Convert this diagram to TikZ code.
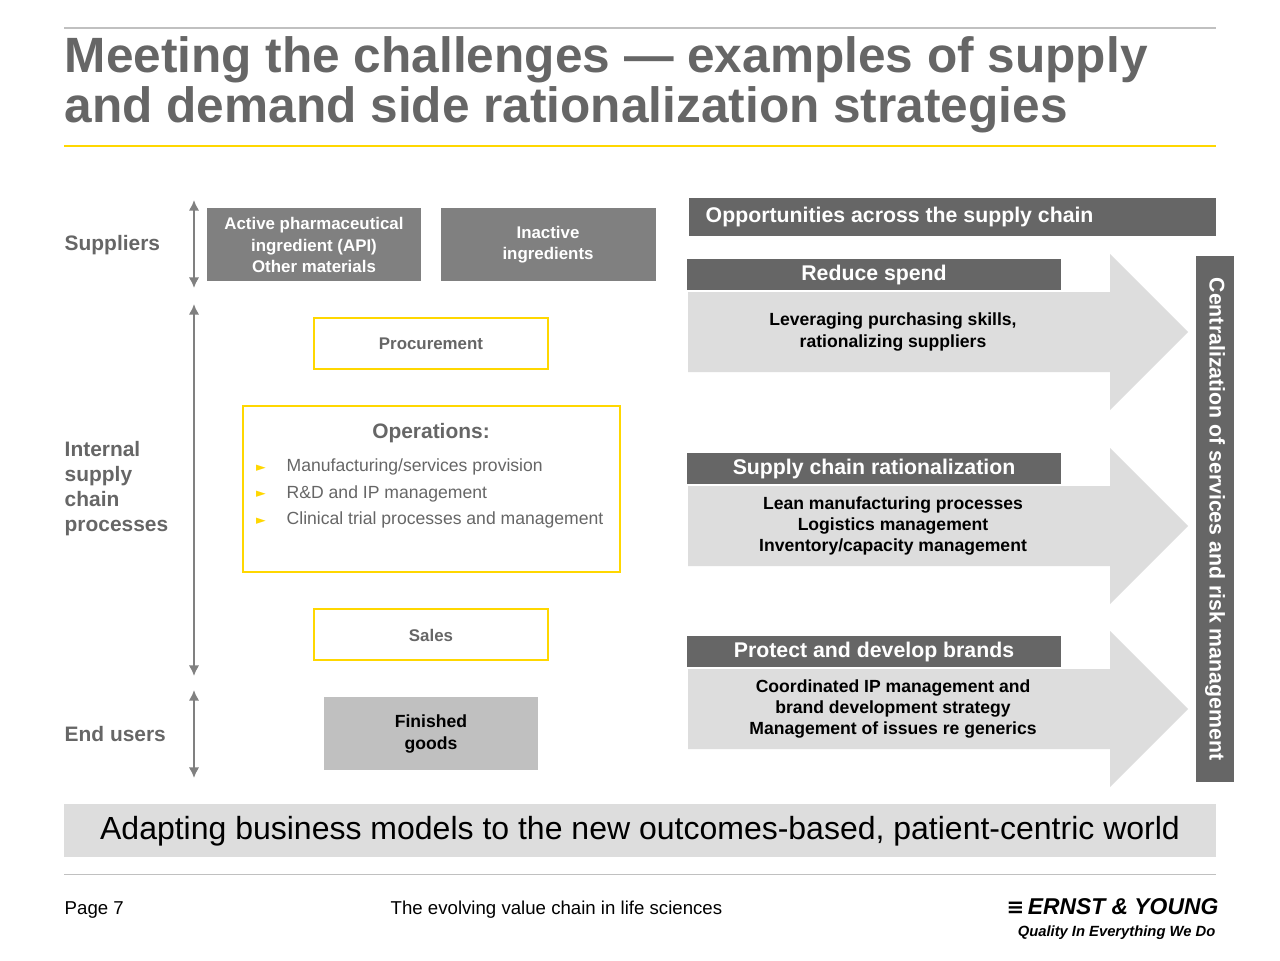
\documentclass[tikz,border=0pt]{standalone}
\usepackage{fontspec}
\setmainfont{Liberation Sans}
\newfontfamily\symfont{DejaVu Sans}
\usetikzlibrary{arrows.meta,positioning}
\definecolor{eytext}{HTML}{666666}
\definecolor{eydark}{HTML}{666666}
\definecolor{eymid}{HTML}{808080}
\definecolor{eylight}{HTML}{DDDDDD}
\definecolor{eygood}{HTML}{C0C0C0}
\definecolor{eyyellow}{HTML}{FFD700}
\newcommand{\fs}[2]{\fontsize{#1}{#2}\selectfont}

\begin{document}
\begin{tikzpicture}[x=0.01cm,y=-0.01cm,
  side/.style={anchor=west,align=left,font=\fs{5.95pt}{7.1pt}\bfseries,text=eytext},
  input/.style={align=center,font=\fs{4.8pt}{6pt}\bfseries,text=white,inner sep=0pt},
  stage/.style={draw=eyyellow,line width=0.4pt,fill=white,align=center,font=\fs{4.8pt}{6pt}\bfseries,text=eytext},
  head/.style={fill=eydark,text=white,font=\fs{6.05pt}{7pt}\bfseries,inner sep=0pt},
  body/.style={font=\fs{5pt}{6.1pt}\bfseries,align=center,text=black},
  span/.style={{Latex[length=3pt,width=3pt]}-{Latex[length=3pt,width=3pt]},eymid,line width=0.6pt},
  bullet/.style={anchor=west,font=\fs{5pt}{6pt},text=eytext,inner sep=0pt}
]
\useasboundingbox (0,0) rectangle (1280,960);
\fill[white] (0,0) rectangle (1280,960);

% title
\draw[eygood,line width=0.3pt] (64,28) -- (1216,28);
\node[anchor=north west,align=left,inner sep=0pt,font=\fs{14.1pt}{14.3pt}\bfseries,text=eytext] (title) at (64,36)
  {Meeting the challenges --- examples of supply\\and demand side rationalization strategies};
\draw[eyyellow,line width=0.6pt] (64,146) -- (1216,146);

% left side
\node[side,inner sep=0pt] (sup) at (64,245) {Suppliers};
\node[side,inner sep=0pt] (int) at (64,489) {Internal\\supply\\chain\\processes};
\node[side,inner sep=0pt] (end) at (64,734) {End users};
\coordinate (a1) at (194,200); \coordinate (a2) at (194,288);
\coordinate (b1) at (194,304); \coordinate (b2) at (194,676);
\coordinate (c1) at (194,690); \coordinate (c2) at (194,778);
\draw[span] (a1) -- (a2);
\draw[span] (b1) -- (b2);
\draw[span] (c1) -- (c2);

% chain boxes
\fill[eymid] (207,208) rectangle (421,281);
\node[input] (api) at (314,245) {Active pharmaceutical\\ingredient (API)\\Other materials};
\fill[eymid] (441,208) rectangle (656,281);
\node[input] (inact) at (548,245) {Inactive\\ingredients};
\draw[stage] (314,318) rectangle (548,369);
\node[stage,draw=none,fill=none] (proc) at (431,344) {Procurement};
\draw[stage] (243,406) rectangle (620,572);
\node[font=\fs{5.95pt}{7pt}\bfseries,text=eytext] (ops) at (431,433) {Operations:};
\foreach \t [count=\i] in {Manufacturing/services provision,R\&D and IP management,Clinical trial processes and management}{
  \node[bullet] at (286,467+26.5*\i-26.5) {\t};
  \node[font=\symfont\fs{3.6pt}{4pt},text=eyyellow] at (261,468+26.5*\i-26.5) {►};
}
\draw[stage] (314,609) rectangle (548,660);
\node[stage,draw=none,fill=none] (sales) at (431,635) {Sales};
\fill[eygood] (324,697) rectangle (538,770);
\node[body] (goods) at (431,734) {Finished\\goods};

% opportunities
\fill[eydark] (689,198) rectangle (1216,236);
\node[head,anchor=west] (opp) at (705,217) {Opportunities across the supply chain};
\foreach \y/\h/\t/\b in {
  292/Reduce spend/{Leveraging purchasing skills,\\rationalizing suppliers}/1,
  486/Supply chain rationalization/{Lean manufacturing processes\\Logistics management\\Inventory/capacity management}/2,
  669/Protect and develop brands/{Coordinated IP management and\\brand development strategy\\Management of issues re generics}/3}{
  \fill[eylight] (688,\y) -- (1110,\y) -- (1110,\y-38) -- (1188,\y+40) -- (1110,\y+118) -- (1110,\y+80) -- (688,\y+80) -- cycle;
  \fill[eydark] (687,\y-33) rectangle (1061,\y-2);
  \node[head] (h\b) at (874,\y-17) {\h};
  \node[body] (t\b) at (893,\y+40) {\t};
}
\fill[eydark] (1196,256) rectangle (1234,782);
\node[head,rotate=-90] (cent) at (1215,519) {Centralization of services and risk management};

% bottom
\fill[eylight] (64,804) rectangle (1216,857);
\node[font=\fs{9.1pt}{10pt},text=black] (adapt) at (640,831) {Adapting business models to the new outcomes-based, patient-centric world};
\draw[eygood,line width=0.3pt] (64,874) -- (1216,874);
\node[anchor=west,inner sep=0pt,font=\fs{5.3pt}{6pt}] (page) at (64,910) {Page 7};
\node[anchor=west,inner sep=0pt,font=\fs{5.3pt}{6pt}] (foot) at (390,910) {The evolving value chain in life sciences};
\node[anchor=east,inner sep=0pt,font=\fs{6.5pt}{7pt}\bfseries\itshape,text=black] (ey) at (1219,907) {{\symfont\fs{6pt}{7pt}≡}\hspace{1pt}ERNST \& YOUNG};
\node[anchor=east,inner sep=0pt,font=\fs{4.2pt}{5pt}\bfseries\itshape,text=black] (qual) at (1216,933) {Quality In Everything We Do};
\end{tikzpicture}
\end{document}
